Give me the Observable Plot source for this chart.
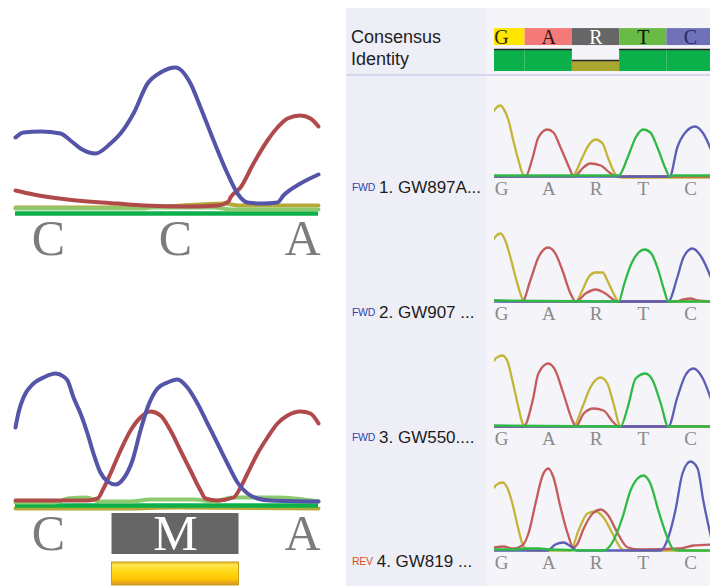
<!DOCTYPE html>
<html>
<head>
<meta charset="utf-8">
<script src="https://cdn.jsdelivr.net/npm/d3@7"></script>
<script src="https://cdn.jsdelivr.net/npm/@observablehq/plot@0.6"></script>
<style>
  html, body { margin: 0; padding: 0; background: #ffffff; }
  #page { position: relative; width: 710px; height: 586px; overflow: hidden;
          font-family: "Liberation Sans", Arial, sans-serif; }
  .abs { position: absolute; }
  #side { left: 346px; top: 8px; width: 364px; height: 578px; background: #f4f4f9; }
  #labelcol { left: 346px; top: 8px; width: 141px; height: 578px; background: #eeeef7; }
  #sep { left: 346px; top: 74px; width: 364px; height: 2px; background: #d6d6ec; }
  .hdr { left: 351px; font-size: 18px; line-height: 20px; color: #222; }
  .row { left: 352px; font-size: 17px; line-height: 20px; color: #1c1c1c; white-space: nowrap; }
  .dir { font-size: 10.5px; position: relative; top: -2px; margin-right: 4px; letter-spacing: -0.3px; }
</style>
</head>
<body>
<div id="page">
  <div id="side" class="abs"></div>
  <div id="labelcol" class="abs"></div>
  <div id="sep" class="abs"></div>
  <div class="abs hdr" style="top:27px">Consensus</div>
  <div class="abs hdr" style="top:49px">Identity</div>
</div>
<script>
// ---- Base calls -----------------------------------------------------------
const consensusBases = ["G", "A", "R", "T", "C"];
const consensusIdentity = [1, 1, 0.5, 1, 1];
const readBases = ["G", "A", "R", "T", "C"];
const readNames = ["1. GW897A...", "2. GW907 ...", "3. GW550....", "4. GW819 ..."];
const readDirections = ["FWD", "FWD", "FWD", "REV"];
const zoomTopBases = ["C", "C", "A"];
const zoomBottomBases = ["C", "M", "A"];

// ---- Chromatogram traces: [base position, signal] -------------------------
// Read 1
const read1G = [[-0.15,66],[-0.127,68],[-0.02,71],[0.04,68],[0.15,56],[0.25,36],[0.36,16],[0.47,1],[0.55,0],[1.45,0],[1.52,1],[1.71,19],[1.84,31],[1.99,37],[2.14,33],[2.26,18],[2.45,0],[2.55,-1],[4.45,-1]];
const read1A = [[-0.15,0],[0.45,0],[0.51,0],[0.66,19],[0.78,39],[0.97,47],[1.1,44],[1.25,29],[1.46,6],[1.52,0],[1.6,2],[1.71,8],[1.88,13],[2.1,11],[2.31,3],[2.45,0],[4.45,0]];
const read1C = [[-0.15,0],[3.5,0],[3.56,0],[3.72,29],[3.89,44],[4.1,50],[4.27,43],[4.45,25]];
const read1T = [[-0.15,1],[2.4,1],[2.48,1],[2.67,19],[2.84,39],[3.0,47],[3.15,44],[3.3,29],[3.47,8],[3.56,0],[3.65,1],[4.45,1]];
// Read 2
const read2G = [[-0.15,63],[-0.127,65],[-0.02,68],[0.08,61],[0.19,44],[0.3,24],[0.4,8],[0.47,0],[1.57,0],[1.71,11],[1.84,24],[1.99,29],[2.14,29],[2.24,21],[2.37,8],[2.48,0],[4.45,0]];
const read2A = [[-0.15,1],[0.44,0],[0.61,21],[0.78,44],[0.99,54],[1.14,48],[1.29,31],[1.46,8],[1.57,0],[1.78,8],[1.99,12],[2.2,8],[2.45,0],[3.7,0],[3.85,2],[4.0,3],[4.15,1],[4.45,0]];
const read2C = [[-0.15,0],[3.5,0],[3.53,0],[3.72,24],[3.85,44],[4.04,53],[4.21,46],[4.45,22]];
const read2T = [[-0.15,1],[2.48,0],[2.6,18],[2.75,38],[2.9,49],[3.03,52],[3.17,48],[3.32,31],[3.45,10],[3.53,0],[4.45,0]];
// Read 3
const read3G = [[-0.15,66],[-0.127,68],[0.02,71],[0.12,66],[0.23,46],[0.34,23],[0.44,4],[0.49,0],[1.52,0],[1.71,19],[1.88,39],[2.1,49],[2.24,43],[2.37,23],[2.52,0],[4.45,0]];
const read3A = [[-0.15,0],[0.47,0],[0.66,26],[0.78,53],[0.99,63],[1.14,56],[1.31,33],[1.5,6],[1.57,0],[1.74,13],[1.95,18],[2.16,16],[2.37,4],[2.48,0],[4.45,0]];
const read3C = [[-0.15,0],[3.5,0],[3.53,0],[3.72,29],[3.89,51],[4.06,58],[4.25,49],[4.45,25]];
const read3T = [[-0.15,1],[2.52,0],[2.67,19],[2.84,48],[3.05,53],[3.2,46],[3.37,23],[3.53,0],[4.45,0]];
// Read 4
const read4G = [[-0.15,63],[-0.127,65],[0.02,68],[0.12,63],[0.23,47],[0.34,25],[0.44,7],[0.55,0],[1.46,0],[1.63,20],[1.82,37],[1.99,39],[2.16,33],[2.35,17],[2.56,1],[2.7,0],[4.45,0]];
const read4A = [[-0.15,3],[0.04,4],[0.25,2],[0.44,5],[0.57,17],[0.72,47],[0.87,75],[0.99,82],[1.1,73],[1.25,43],[1.4,17],[1.52,3],[1.6,6],[1.74,22],[1.93,37],[2.1,41],[2.26,35],[2.45,18],[2.67,3],[2.94,1],[3.79,2],[4.06,5],[4.45,6]];
const read4C = [[-0.15,0],[0.9,0],[0.97,0],[1.14,6],[1.31,8],[1.5,3],[1.6,0],[3.3,0],[3.37,0],[3.53,13],[3.68,40],[3.83,77],[4.0,89],[4.15,82],[4.27,50],[4.45,10]];
const read4T = [[-0.15,1],[0.3,1],[0.5,2],[0.8,2],[1.0,1],[2.1,0],[2.16,0],[2.37,10],[2.56,33],[2.73,60],[2.88,72],[3.0,75],[3.15,67],[3.32,40],[3.51,13],[3.64,1],[3.75,0],[4.45,0]];

// Zoomed views (C C A and C M A)
const zoomTopC = [[-0.26,76],[-0.197,81],[-0.063,82],[0.094,80],[0.173,73],[0.252,65],[0.37,60],[0.488,70],[0.567,80],[0.669,100],[0.78,130],[0.882,141],[1.0,146],[1.118,130],[1.197,106],[1.3,73],[1.409,40],[1.488,20],[1.567,11],[1.685,10],[1.803,11],[1.85,18],[1.984,30],[2.126,39]];
const zoomTopA = [[-0.26,23],[-0.118,19],[0.15,14],[0.543,10],[0.748,8],[1.118,7],[1.33,8],[1.417,12],[1.433,16],[1.512,26],[1.614,50],[1.724,73],[1.803,86],[1.882,95],[1.984,98],[2.063,95],[2.126,87]];
const zoomTopG = [[-0.26,6],[0.7,6],[1.2,9],[1.38,10],[1.5,8],[2.126,8]];
const zoomTopT = [[-0.26,5],[0.75,5],[0.8,6],[1.3,6],[1.45,4],[2.126,4]];
const zoomBottomC = [[-0.26,78],[-0.236,93],[-0.197,108],[-0.118,122],[-0.039,128],[0.055,132],[0.118,129],[0.15,125],[0.197,108],[0.252,92],[0.307,72],[0.354,52],[0.409,33],[0.465,24],[0.528,21],[0.591,27],[0.661,45],[0.724,75],[0.78,98],[0.858,117],[0.937,123],[1.016,126],[1.094,118],[1.173,102],[1.252,82],[1.331,62],[1.409,42],[1.488,23],[1.567,12],[1.646,7],[1.75,5],[2.126,4]];
const zoomBottomA = [[-0.26,5],[0.3,5],[0.386,7],[0.433,17],[0.488,32],[0.567,55],[0.646,75],[0.724,88],[0.803,94],[0.882,90],[0.961,75],[1.039,55],[1.118,35],[1.197,15],[1.236,7],[1.33,5],[1.457,8],[1.512,18],[1.567,32],[1.646,52],[1.724,68],[1.803,82],[1.882,90],[1.984,94],[2.063,92],[2.126,82]];
const zoomBottomG = [[-0.26,-3],[0.6,-3],[1.0,-2],[2.126,-3]];
const zoomBottomT = [[-0.26,3],[0.05,3],[0.15,7],[0.3,8],[0.4,4],[0.65,4],[0.8,6],[1.15,6],[1.3,4],[1.45,8],[1.8,8],[2.126,4]];

// ---- Styling ---------------------------------------------------------------
const blockFill = {G: "#ffe500", A: "#f47a7a", R: "#666666", T: "#69bb46", C: "#6f72b8"};
const blockInk = {G: "#2a2a14", A: "#2a1414", R: "#ffffff", T: "#111111", C: "#262660"};
const readTrace = {G: "#c4b43a", A: "#c45c5c", C: "#5c5db4", T: "#2fba45"};
const zoomTrace = {G: "#b5aa38", A: "#b04a4a", C: "#5454a8", T: "#8cc96f"};
const dirColor = {FWD: "#3344b0", REV: "#d2511e"};
const serif = "Liberation Serif, Times New Roman, serif";

const page = document.getElementById("page");
const points = arr => arr.map(([pos, signal]) => ({pos, signal}));
function place(node, left, top) {
  const wrap = document.createElement("div");
  wrap.className = "abs";
  wrap.style.left = left + "px";
  wrap.style.top = top + "px";
  wrap.appendChild(node);
  page.appendChild(wrap);
}

// ---- Consensus + identity header -----------------------------------------
const consensus = consensusBases.map((base, i) => ({pos: i, base, identity: consensusIdentity[i]}));
const header = Plot.plot({
  width: 216, height: 47, margin: 0,
  style: {background: "transparent"},
  x: {domain: [-0.148, 4.423], axis: null},
  y: {domain: [-0.09, 2.045], axis: null},
  color: {type: "identity"},
  marks: [
    Plot.rect(consensus, {x1: d => d.pos - 0.5, x2: d => d.pos + 0.5, y1: 1.18, y2: 1.95, fill: d => blockFill[d.base]}),
    Plot.text(consensus, {x: "pos", y: 1.56, text: "base", fill: d => blockInk[d.base],
      fontFamily: serif, fontSize: 20}),
    Plot.rect(consensus, {x1: d => d.pos - 0.5, x2: d => d.pos + 0.5, y1: 0, y2: "identity",
      fill: d => d.identity >= 1 ? "#0cb04b" : "#aaa832"}),
    Plot.ruleY(consensus, {x1: d => d.pos - 0.5, x2: d => d.pos + 0.5, y: "identity", stroke: "#262626", strokeWidth: 1.5})
  ]
});
place(header, 494, 26);

// ---- Reads -----------------------------------------------------------------
const reads = [
  {G: read1G, A: read1A, C: read1C, T: read1T},
  {G: read2G, A: read2A, C: read2C, T: read2T},
  {G: read3G, A: read3A, C: read3C, T: read3T},
  {G: read4G, A: read4A, C: read4C, T: read4T}
];
const readTops = [76, 201, 326, 450];
const readCalls = readBases.map((base, i) => ({pos: i, base}));

reads.forEach((read, r) => {
  const chart = Plot.plot({
    width: 216, height: 125, margin: 0,
    style: {background: "transparent"},
    x: {domain: [-0.148, 4.423], axis: null},
    y: {domain: [-25, 100], axis: null},
    marks: [
      ...["G", "A", "C", "T"].map(ch => Plot.line(points(read[ch]), {
        x: "pos", y: "signal", stroke: readTrace[ch], strokeWidth: 2.3, curve: "monotone-x"
      })),
      Plot.text(readCalls, {x: "pos", y: -12, text: "base", fill: "#8a8a8a", fontFamily: serif, fontSize: 19})
    ]
  });
  place(chart, 494, readTops[r]);

  const label = document.createElement("div");
  label.className = "abs row";
  label.style.top = (readTops[r] + 102) + "px";
  const dir = document.createElement("span");
  dir.className = "dir";
  dir.style.color = dirColor[readDirections[r]];
  dir.textContent = readDirections[r];
  label.appendChild(dir);
  label.appendChild(document.createTextNode(readNames[r]));
  page.appendChild(label);
});

// ---- Zoomed chromatograms -----------------------------------------------
function zoomPlot(traces, bases, yDomain, height, letterLevel, ambiguous) {
  const calls = bases.map((base, i) => ({pos: i, base}));
  const marks = [
    Plot.line(points(traces.G), {x: "pos", y: "signal", stroke: zoomTrace.G, strokeWidth: 4, curve: "monotone-x"}),
    Plot.ruleY([0], {stroke: "#0cb04b", strokeWidth: 4.5}),
    Plot.line(points(traces.T), {x: "pos", y: "signal", stroke: zoomTrace.T, strokeWidth: 4, curve: "monotone-x"}),
    Plot.line(points(traces.A), {x: "pos", y: "signal", stroke: zoomTrace.A, strokeWidth: 4, curve: "monotone-x"}),
    Plot.line(points(traces.C), {x: "pos", y: "signal", stroke: zoomTrace.C, strokeWidth: 4, curve: "monotone-x"})
  ];
  if (ambiguous) {
    const amb = calls.filter(d => d.base === ambiguous);
    marks.push(
      Plot.rect(amb, {x1: d => d.pos - 0.5, x2: d => d.pos + 0.5, y1: -8, y2: -49, fill: "#666666"}),
      Plot.rect(amb, {x1: d => d.pos - 0.5, x2: d => d.pos + 0.5, y1: -57, y2: -80,
        fill: "url(#qualityGradient)", stroke: "#c9a01e", strokeWidth: 1})
    );
  }
  marks.push(Plot.text(calls, {x: "pos", y: letterLevel, text: "base",
    fill: d => d.base === ambiguous ? "#ffffff" : "#7c7c7c", fontFamily: serif, fontSize: 50}));
  const svg = Plot.plot({
    width: 330, height, marginLeft: 15, marginRight: 12, marginTop: 0, marginBottom: 0,
    style: {background: "transparent"},
    x: {domain: [-0.26, 2.126], axis: null},
    y: {domain: yDomain, axis: null},
    color: {type: "identity"},
    marks
  });
  if (ambiguous) {
    d3.select(svg).insert("defs", ":first-child").html(
      `<linearGradient id="qualityGradient" x1="0" y1="0" x2="0" y2="1">
        <stop offset="0" stop-color="#d9b52a"/>
        <stop offset="0.12" stop-color="#ffe64a"/>
        <stop offset="0.45" stop-color="#ffd812"/>
        <stop offset="0.75" stop-color="#ffc400"/>
        <stop offset="0.9" stop-color="#e6a81c"/>
        <stop offset="1" stop-color="#c99420"/>
      </linearGradient>`);
  }
  return svg;
}

place(zoomPlot({G: zoomTopG, A: zoomTopA, C: zoomTopC, T: zoomTopT}, zoomTopBases, [-57, 173], 230, -25, null), 0, 40);
place(zoomPlot({G: zoomBottomG, A: zoomBottomA, C: zoomBottomC, T: zoomBottomT}, zoomBottomBases, [-81, 155], 236, -28, "M"), 0, 350);
</script>
</body>
</html>
